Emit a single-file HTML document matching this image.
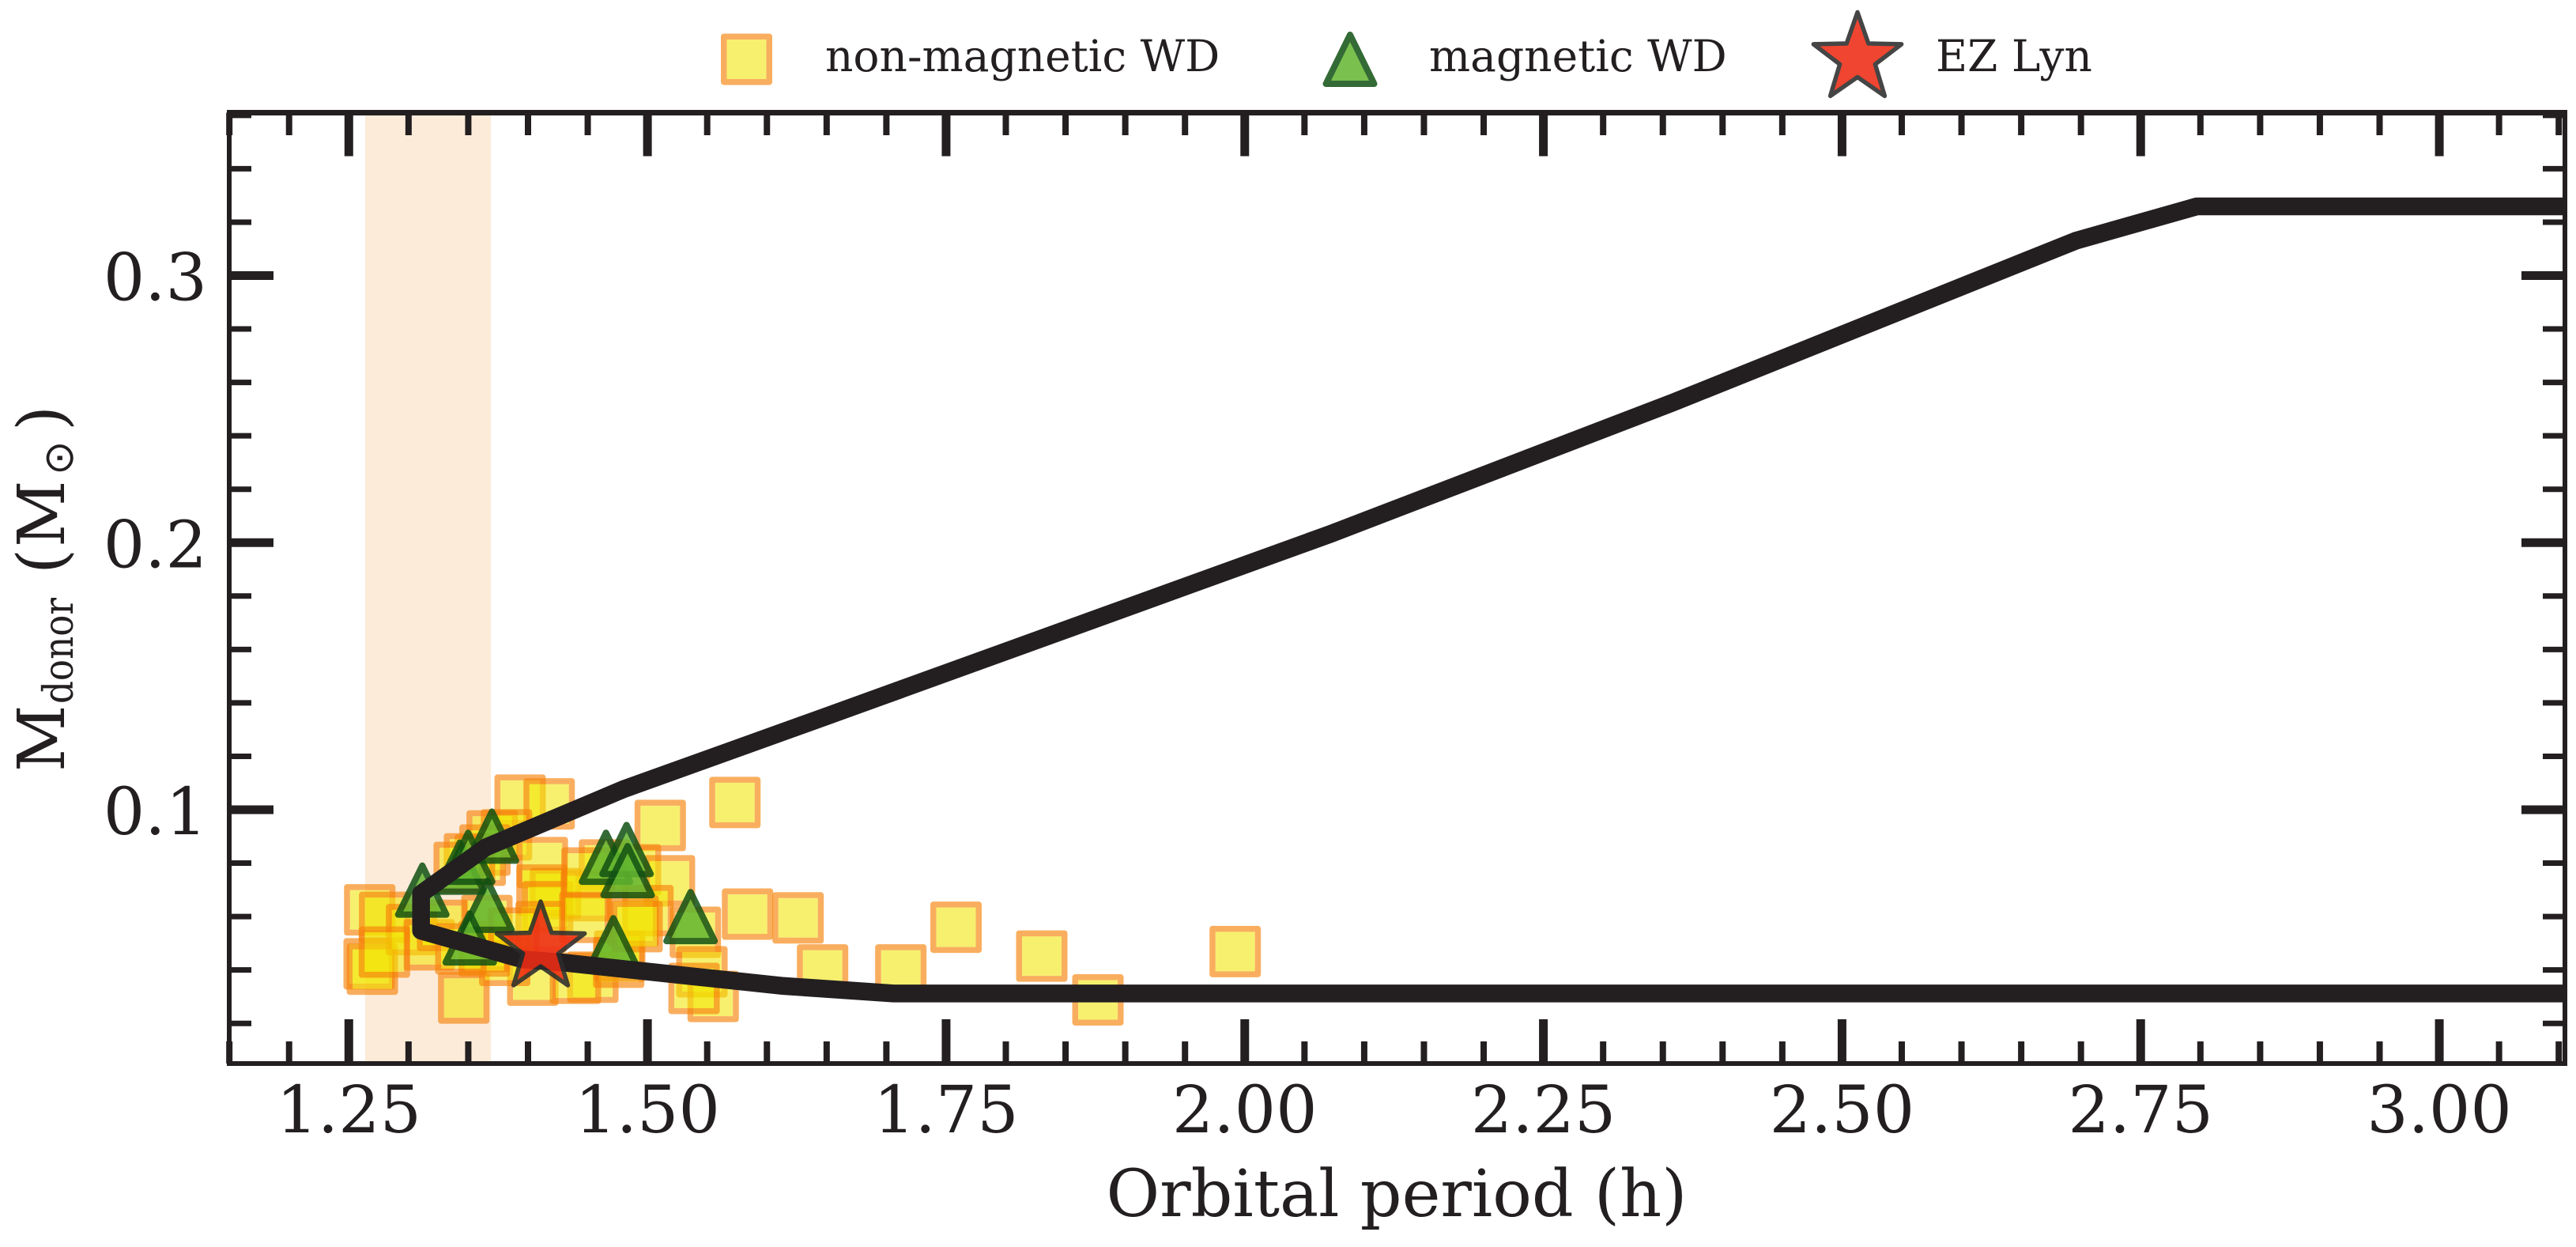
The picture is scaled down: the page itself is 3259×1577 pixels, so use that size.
<!DOCTYPE html>
<html lang="en">
<head>
<meta charset="utf-8">
<title>Donor mass vs orbital period</title>
<style>
html,body{margin:0;padding:0;background:#fff;}
svg{display:block;}
text{font-family:"DejaVu Serif","Liberation Serif",serif;fill:#231f20;}
</style>
</head>
<body>
<svg id="chart" xmlns="http://www.w3.org/2000/svg" width="3259" height="1577" viewBox="0 0 3259 1577">
  <defs>
    <clipPath id="plot-clip"><rect x="290" y="142.5" width="2955" height="1202.5"/></clipPath>
  </defs>
  <rect x="0" y="0" width="3259" height="1577" fill="#ffffff"/>
  <g id="band-layer"></g>
  <g id="tick-layer"></g>
  <g id="square-layer" clip-path="url(#plot-clip)"></g>
  <g id="triangle-layer" clip-path="url(#plot-clip)"></g>
  <g id="line-layer" clip-path="url(#plot-clip)"></g>
  <g id="star-layer"></g>
  <g stroke="#231f20" fill="none">
    <line x1="290" y1="139" x2="290" y2="1348" stroke-width="6"/>
    <line x1="3245" y1="139" x2="3245" y2="1348" stroke-width="6"/>
    <line x1="287" y1="142.5" x2="3248" y2="142.5" stroke-width="7"/>
    <line x1="287" y1="1345" x2="3248" y2="1345" stroke-width="6"/>
  </g>
  <g id="tick-label-layer"></g>
  <text x="1767" y="1538" font-size="82.5" text-anchor="middle">Orbital period (h)</text>
  <g>
    <text transform="translate(81,976) rotate(-90)" font-size="82.5">M</text>
    <text transform="translate(92,890) rotate(-90)" font-size="52" textLength="134" lengthAdjust="spacingAndGlyphs">donor</text>
    <text transform="translate(81,726) rotate(-90)" font-size="82.5">(</text>
    <text transform="translate(81,692) rotate(-90)" font-size="82.5">M</text>
    <text transform="translate(92,601) rotate(-90)" font-size="52" style="font-family:'DejaVu Sans',sans-serif">⊙</text>
    <text transform="translate(81,545) rotate(-90)" font-size="82.5">)</text>
  </g>
  <g id="legend">
    <g>
      <g id="legend-square"></g>
      <text x="1044" y="90" font-size="55">non-magnetic WD</text>
    </g>
    <g>
      <g id="legend-triangle"></g>
      <text x="1808" y="90" font-size="55">magnetic WD</text>
    </g>
    <g>
      <g id="legend-star"></g>
      <text x="2449" y="90" font-size="55">EZ Lyn</text>
    </g>
  </g>
</svg>
<script>
// ---- chart data (orbital period in hours, donor mass in solar masses) ----
const nonMagneticPeriod = [1.2675,1.280,1.267,1.2697,1.3025,1.3173,1.2798,1.3285,1.3934,1.4177,1.370,1.382,1.364,1.360,1.351,1.3424,1.412,1.464,1.423,1.4117,1.4165,1.4488,1.4494,1.3462,1.404,1.3805,1.4543,1.4397,1.3633,1.3634,1.3438,1.3656,1.4759,1.4768,1.5732,1.5107,1.490,1.5184,1.5004,1.488,1.5401,1.5456,1.555,1.539,1.5838,1.6261,1.6466,1.7121,1.7583,1.8301,1.8771,1.992,1.4913,1.411,1.4476,1.388];
const nonMagneticMass = [0.0625,0.0597,0.0423,0.0403,0.0551,0.0494,0.0467,0.0567,0.1036,0.1022,0.0902,0.0906,0.0849,0.0811,0.0816,0.0784,0.0802,0.0793,0.0686,0.0699,0.0637,0.0678,0.0763,0.0295,0.0362,0.0436,0.0373,0.0369,0.0488,0.0471,0.0479,0.0585,0.0429,0.0452,0.1027,0.0941,0.0775,0.0734,0.0622,0.0583,0.0541,0.0393,0.0301,0.0331,0.0609,0.0595,0.0400,0.0400,0.0560,0.0452,0.0288,0.0469,0.0562,0.0562,0.0597,0.0538];
const magneticPeriod = [1.3115,1.3429,1.3499,1.3698,1.3661,1.3512,1.4653,1.4825,1.4834,1.4715,1.5361];
const magneticMass = [0.0699,0.0785,0.0822,0.0901,0.0642,0.0520,0.0822,0.0851,0.0772,0.0502,0.0600];
const trackPeriod = [3.2,2.797,2.696,2.358,2.072,1.6455,1.48,1.3647,1.3105,1.3105,1.395,1.429,1.614,1.706,3.2];
const trackMass = [0.3259,0.3259,0.3131,0.2524,0.2033,0.1343,0.1077,0.0859,0.0686,0.0547,0.0440,0.0428,0.0340,0.0312,0.0312];
const ezLynPeriod = [1.4106];
const ezLynMass = [0.0483];
const bandPeriods = [1.2637,1.369];
const xTickValues = [1.25,1.5,1.75,2.0,2.25,2.5,2.75,3.0];
const xTickLabels = ["1.25","1.50","1.75","2.00","2.25","2.50","2.75","3.00"];
const yTickValues = [0.1,0.2,0.3];
const yTickLabels = ["0.1","0.2","0.3"];
const xMinorTicks = [1.15,1.2,1.3,1.35,1.4,1.45,1.55,1.6,1.65,1.7,1.8,1.85,1.9,1.95,2.05,2.1,2.15,2.2,2.3,2.35,2.4,2.45,2.55,2.6,2.65,2.7,2.8,2.85,2.9,2.95,3.05,3.1];
const yMinorTicks = [0.02,0.04,0.06,0.08,0.12,0.14,0.16,0.18,0.22,0.24,0.26,0.28,0.32,0.34,0.36];

// ---- axis functions ----
const NS = 'http://www.w3.org/2000/svg';
const INK = '#231f20';
const FRAME = {left: 290, right: 3245, top: 142.5, bottom: 1345};
function xScale(h) { return 441.3 + (h - 1.25) * 1511.3; }
function yScale(m) { return 1361.75 - m * 3377.5; }

function make(tag, parent) {
  const el = document.createElementNS(NS, tag);
  parent.appendChild(el);
  return el;
}
function tickLine(parent, x1, y1, x2, y2, width, name) {
  const el = make('line', parent);
  el.setAttribute('x1', x1);
  el.setAttribute('y1', y1);
  el.setAttribute('x2', x2);
  el.setAttribute('y2', y2);
  el.setAttribute('stroke', INK);
  el.setAttribute('stroke-width', width);
  
  
}
function drawSquare(parent, cx, cy, name) {
  const g = make('g', parent);
  
  
  const f = make('rect', g);
  f.setAttribute('x', cx - 25);
  f.setAttribute('y', cy - 25);
  f.setAttribute('width', 50);
  f.setAttribute('height', 50);
  f.setAttribute('fill', 'rgb(241,228,0)');
  f.setAttribute('fill-opacity', '0.565');
  const r = make('rect', g);
  r.setAttribute('x', cx - 28.75);
  r.setAttribute('y', cy - 28.75);
  r.setAttribute('width', 57.5);
  r.setAttribute('height', 57.5);
  r.setAttribute('fill', 'none');
  r.setAttribute('stroke', 'rgb(246,130,9)');
  r.setAttribute('stroke-opacity', '0.65');
  r.setAttribute('stroke-width', 7.5);
  r.setAttribute('stroke-linejoin', 'round');
}
function drawTriangle(parent, cx, cy, name) {
  const g = make('g', parent);
  
  
  g.setAttribute('opacity', '0.85');
  const p = make('polygon', g);
  p.setAttribute('points', [[cx, cy - 31], [cx - 30.5, cy + 31], [cx + 30.5, cy + 31]].map(q => q.join(',')).join(' '));
  p.setAttribute('fill', '#62b630');
  p.setAttribute('stroke', '#115113');
  p.setAttribute('stroke-width', 8);
  p.setAttribute('stroke-linejoin', 'round');
}
function drawStar(parent, cx, cy, name) {
  const pts = [];
  for (let k = 0; k < 10; k++) {
    const rad = k % 2 === 0 ? 58.5 : 23.5;
    const a = (-90 + 36 * k) * Math.PI / 180;
    pts.push((cx + rad * Math.cos(a)).toFixed(2) + ',' + (cy + rad * Math.sin(a)).toFixed(2));
  }
  const g = make('g', parent);
  
  
  g.setAttribute('opacity', '0.88');
  const p = make('polygon', g);
  p.setAttribute('points', pts.join(' '));
  p.setAttribute('fill', '#ee2c14');
  p.setAttribute('stroke', '#2c2c2c');
  p.setAttribute('stroke-width', 5.5);
  p.setAttribute('stroke-linejoin', 'round');
}

// ---- shaded band ----
const bandLayer = document.getElementById('band-layer');
const band = make('rect', bandLayer);
band.setAttribute('x', xScale(bandPeriods[0]));
band.setAttribute('y', FRAME.top);
band.setAttribute('width', xScale(bandPeriods[1]) - xScale(bandPeriods[0]));
band.setAttribute('height', FRAME.bottom - FRAME.top);
band.setAttribute('fill', '#fcebd9');



// ---- ticks ----
const tickLayer = document.getElementById('tick-layer');
xTickValues.forEach(function (v) {
  const x = xScale(v);
  tickLine(tickLayer, x, FRAME.bottom, x, FRAME.bottom - 56, 11, 'x-major-tick');
  tickLine(tickLayer, x, FRAME.top, x, FRAME.top + 55, 11, 'x-major-tick-top');
});
xMinorTicks.forEach(function (v) {
  const x = xScale(v);
  tickLine(tickLayer, x, FRAME.bottom, x, FRAME.bottom - 28, 8, 'x-minor-tick');
  tickLine(tickLayer, x, FRAME.top, x, FRAME.top + 28.5, 8, 'x-minor-tick-top');
});
yTickValues.forEach(function (v) {
  const y = yScale(v);
  tickLine(tickLayer, FRAME.left, y, FRAME.left + 56, y, 11, 'y-major-tick');
  tickLine(tickLayer, FRAME.right, y, FRAME.right - 55, y, 11, 'y-major-tick-right');
});
yMinorTicks.forEach(function (v) {
  const y = yScale(v);
  tickLine(tickLayer, FRAME.left, y, FRAME.left + 28, y, 7, 'y-minor-tick');
  tickLine(tickLayer, FRAME.right, y, FRAME.right - 28, y, 7, 'y-minor-tick-right');
});

// ---- tick labels ----
const labelLayer = document.getElementById('tick-label-layer');
xTickValues.forEach(function (v, i) {
  const t = make('text', labelLayer);
  t.setAttribute('x', xScale(v));
  t.setAttribute('y', 1432);
  t.setAttribute('font-size', 82.5);
  t.setAttribute('text-anchor', 'middle');
  
  
  t.textContent = xTickLabels[i];
});
yTickValues.forEach(function (v, i) {
  const t = make('text', labelLayer);
  t.setAttribute('x', 262);
  t.setAttribute('y', yScale(v) + 31);
  t.setAttribute('font-size', 82.5);
  t.setAttribute('text-anchor', 'end');
  
  
  t.textContent = yTickLabels[i];
});

// ---- series ----
const squareLayer = document.getElementById('square-layer');
nonMagneticPeriod.forEach(function (h, i) {
  drawSquare(squareLayer, xScale(h), yScale(nonMagneticMass[i]), 'non-magnetic-point');
});
const triangleLayer = document.getElementById('triangle-layer');
magneticPeriod.forEach(function (h, i) {
  drawTriangle(triangleLayer, xScale(h), yScale(magneticMass[i]), 'magnetic-point');
});
const lineLayer = document.getElementById('line-layer');
const track = make('polyline', lineLayer);
track.setAttribute('points', trackPeriod.map(function (h, i) {
  return xScale(h).toFixed(1) + ',' + yScale(trackMass[i]).toFixed(1);
}).join(' '));
track.setAttribute('fill', 'none');
track.setAttribute('stroke', INK);
track.setAttribute('stroke-width', 22.5);
track.setAttribute('stroke-linejoin', 'round');


const starLayer = document.getElementById('star-layer');
ezLynPeriod.forEach(function (h, i) {
  drawStar(starLayer, xScale(h), yScale(ezLynMass[i]), 'ez-lyn-point');
});

// ---- legend markers ----
drawSquare(document.getElementById('legend-square'), 944.5, 75, 'legend-square');
drawTriangle(document.getElementById('legend-triangle'), 1708, 75, 'legend-triangle');
drawStar(document.getElementById('legend-star'), 2350, 74, 'legend-star');
</script>
</body>
</html>
